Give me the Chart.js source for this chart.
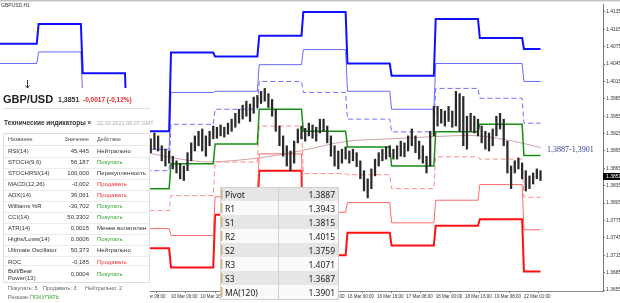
<!DOCTYPE html>
<html>
<head>
<meta charset="utf-8">
<script src="https://cdn.jsdelivr.net/npm/chart.js@4.4.0/dist/chart.umd.min.js"></script>
<style>
  html, body { margin: 0; padding: 0; background: #fff; }
  #wrap { width: 620px; height: 303px; position: relative; }
</style>
</head>
<body>
<div id="wrap"><canvas id="chart" width="620" height="303"></canvas></div>
<script>
// ========== DATA ==========
// H1 bars, x = bar number; each trading day = 24 bars
const dayStarts = [0, 21, 45, 69, 93, 117, 141, 165, 189, 213, 237, 261, 285];
const lastBar = 294;
const barsShown = 328;

// daily pivot levels (04 Mar ... 22 Mar)
const r3 = [1.4080, 1.4114, 1.4029, 1.3929, 1.4065, 1.4058, 1.4094, 1.4135, 1.4046, 1.4025, 1.4123, 1.4090, 1.4071];
const r2 = [1.4046, 1.4066, 1.3986, 1.3898, 1.3996, 1.3998, 1.4044, 1.4070, 1.3998, 1.3967, 1.4046, 1.4046, 1.4015];
const r1 = [1.3984, 1.3994, 1.3934, 1.3861, 1.3941, 1.3967, 1.4015, 1.3996, 1.3950, 1.3928, 1.4003, 1.3986, 1.3943];
const pivot = [1.3950, 1.3946, 1.3892, 1.3830, 1.3873, 1.3907, 1.3967, 1.3929, 1.3902, 1.3869, 1.3928, 1.3941, 1.3887];
const s1 = [1.3888, 1.3874, 1.3840, 1.3792, 1.3818, 1.3876, 1.3938, 1.3856, 1.3854, 1.3830, 1.3885, 1.3881, 1.3815];
const s2 = [1.3854, 1.3826, 1.3797, 1.3761, 1.3749, 1.3816, 1.3890, 1.3789, 1.3806, 1.3771, 1.3810, 1.3837, 1.3759];
const s3 = [1.3792, 1.3754, 1.3746, 1.3727, 1.3694, 1.3785, 1.3861, 1.3715, 1.3754, 1.3732, 1.3766, 1.3777, 1.3687];

// MA(120)
const maBars = [80, 98, 114, 141, 163, 189, 213, 245, 261, 279, 294];
const maValues = [1.3892, 1.3881, 1.3876, 1.3883, 1.3895, 1.3912, 1.3916, 1.3921, 1.3921, 1.3912, 1.3901];

// price bars (high / low), every 2nd bar from bar 82
const candleStart = 82;
const candleStep = 2;
const candleHigh = [
  1.3916, 1.3926, 1.3921, 1.3904, 1.3898, 1.3895, 1.3886, 1.3878, 1.3873, 1.3869,
  1.3892, 1.3909, 1.3921, 1.3929, 1.3933, 1.3921, 1.3929, 1.3938, 1.3936, 1.3940,
  1.3936, 1.3943, 1.3950, 1.3960, 1.3967, 1.3974, 1.3981, 1.3976, 1.3988, 1.3991,
  1.3998, 1.4003, 1.3994, 1.3984, 1.3967, 1.3938, 1.3921, 1.3904, 1.3895, 1.3912,
  1.3933, 1.3938, 1.3934, 1.3943, 1.3940, 1.3936, 1.3950, 1.3950, 1.3938, 1.3921,
  1.3904, 1.3895, 1.3898, 1.3902, 1.3895, 1.3898, 1.3892, 1.3878, 1.3861, 1.3847,
  1.3864, 1.3881, 1.3892, 1.3898, 1.3902, 1.3904, 1.3898, 1.3904, 1.3912, 1.3909,
  1.3921, 1.3933, 1.3921, 1.3912, 1.3904, 1.3886, 1.3929, 1.3972, 1.3972, 1.3967,
  1.3964, 1.3972, 1.3964, 1.3998, 1.3994, 1.3989, 1.3955, 1.3960, 1.3955, 1.3950,
  1.3938, 1.3929, 1.3926, 1.3933, 1.3955, 1.3960, 1.3950, 1.3912, 1.3869, 1.3878,
  1.3883, 1.3874, 1.3861, 1.3852, 1.3857, 1.3864, 1.3861
];
const candleLow = [
  1.3892, 1.3898, 1.3895, 1.3878, 1.3869, 1.3874, 1.3864, 1.3857, 1.3847, 1.3844,
  1.3861, 1.3878, 1.3895, 1.3904, 1.3895, 1.3886, 1.3904, 1.3916, 1.3917, 1.3921,
  1.3919, 1.3924, 1.3929, 1.3936, 1.3943, 1.3950, 1.3955, 1.3946, 1.3960, 1.3970,
  1.3977, 1.3981, 1.3970, 1.3955, 1.3929, 1.3904, 1.3886, 1.3869, 1.3861, 1.3874,
  1.3909, 1.3916, 1.3912, 1.3921, 1.3917, 1.3912, 1.3926, 1.3929, 1.3909, 1.3886,
  1.3869, 1.3864, 1.3874, 1.3881, 1.3874, 1.3878, 1.3868, 1.3847, 1.3826, 1.3814,
  1.3830, 1.3852, 1.3869, 1.3878, 1.3881, 1.3885, 1.3881, 1.3881, 1.3886, 1.3885,
  1.3895, 1.3904, 1.3892, 1.3881, 1.3874, 1.3857, 1.3869, 1.3921, 1.3938, 1.3943,
  1.3938, 1.3946, 1.3936, 1.3938, 1.3929, 1.3904, 1.3898, 1.3929, 1.3926, 1.3921,
  1.3909, 1.3898, 1.3895, 1.3904, 1.3921, 1.3933, 1.3904, 1.3857, 1.3830, 1.3857,
  1.3864, 1.3847, 1.3826, 1.3830, 1.3838, 1.3847, 1.3844
];
const lastPrice = 1.3851;

// axes
const timeTicks = [13, 29, 45, 61, 77, 93, 109, 125, 141, 157, 173, 189, 205, 221, 237, 253, 269, 285];
const timeLabels = ["4 Mar 16:00", "5 Mar 08:00", "8 Mar 00:00", "8 Mar 16:00", "9 Mar 08:00",
  "10 Mar 00:00", "10 Mar 16:00", "11 Mar 08:00", "12 Mar 00:00", "12 Mar 16:00", "15 Mar 08:00",
  "16 Mar 00:00", "16 Mar 16:00", "17 Mar 08:00", "18 Mar 00:00", "18 Mar 16:00", "19 Mar 08:00", "22 Mar 01:00"];
const priceTicks = [1.4135, 1.4105, 1.4075, 1.4045, 1.4015, 1.3985, 1.3955, 1.3925, 1.3895,
  1.3865, 1.3835, 1.3805, 1.3775, 1.3745, 1.3715, 1.3685, 1.3655];

// technical indicators panel
const indNames = ["RSI(14)", "STOCH(9,6)", "STOCHRSI(14)", "MACD(12,26)", "ADX(14)", "Williams %R",
  "CCI(14)", "ATR(14)", "Highs/Lows(14)", "Ultimate Oscillator", "ROC", "Bull/Bear|Power(13)"];
const indValues = ["45,445", "56,187", "100,000", "-0,002", "36,061", "-30,702", "50,3302", "0,0015",
  "0,0006", "50,373", "-0,185", "0,0004"];
const indActions = ["Нейтрально", "Покупать", "Перекупленность", "Продавать", "Продавать", "Покупать",
  "Покупать", "Менее волатилен", "Покупать", "Нейтрально", "Продавать", "Покупать"];

// pivot table
const pivotNames = ["Pivot", "R1", "S1", "R2", "S2", "R3", "S3", "MA(120)"];

// ========== HELPERS ==========
function stepLine(levels) {
    const pts = [];
    levels.forEach((v, i) => {
        const s = dayStarts[i];
        const e = i + 1 < dayStarts.length ? dayStarts[i + 1] - 1 : lastBar;
        pts.push({ x: s, y: v }, { x: e, y: v });
    });
    return pts;
}

function levelSet(label, levels, color, width, dash) {
    return {
        type: "line", label, data: stepLine(levels),
        borderColor: color, borderWidth: width, borderDash: dash || [],
        pointRadius: 0, tension: 0, order: 2
    };
}

const last = pivot.length - 1;
const pivotValues = [pivot[last], r1[last], s1[last], r2[last], s2[last], r3[last], s3[last], maValues[maValues.length - 1]];
const fmt = v => v.toFixed(4);
const fmtComma = v => v.toFixed(4).replace(".", ",");

// ========== OVERLAYS ==========
const overlay = {
    id: "overlay",
    afterDraw(chart) {
        const ctx = chart.ctx;
        const yS = chart.scales.y;
        ctx.save();
        ctx.textBaseline = "alphabetic";

        // top border + title
        ctx.fillStyle = "#c4c4c4";
        ctx.fillRect(0, 0, 620, 1.5);
        ctx.fillStyle = "#333";
        ctx.font = "5px 'Liberation Sans'";
        ctx.fillText("GBPUSD,H1", 1, 7);

        // pivot label on the right
        ctx.font = "8px 'Liberation Serif'";
        ctx.fillStyle = "#2f3f8c";
        ctx.fillText(fmtComma(pivot[last]) + "-" + fmtComma(maValues[maValues.length - 1]), 547, 152);

        // current price box
        const py = yS.getPixelForValue(lastPrice);
        ctx.fillStyle = "#000";
        ctx.fillRect(603, py - 3.5, 17, 7);
        ctx.fillStyle = "#fff";
        ctx.font = "5px 'Liberation Sans'";
        ctx.fillText(fmt(lastPrice), 606, py + 2);

        // small arrow marker
        ctx.strokeStyle = "#333";
        ctx.lineWidth = 1;
        ctx.beginPath();
        ctx.moveTo(27.5, 80); ctx.lineTo(27.5, 88);
        ctx.moveTo(25.5, 85.5); ctx.lineTo(27.5, 88); ctx.lineTo(29.5, 85.5);
        ctx.stroke();

        // ---- left panel ----
        ctx.fillStyle = "#fff";
        ctx.fillRect(0, 88, 150, 215);
        ctx.font = "bold 11px 'Liberation Sans'";
        ctx.fillStyle = "#222";
        ctx.fillText("GBP/USD", 3, 103);
        ctx.font = "bold 7px 'Liberation Sans'";
        ctx.fillStyle = "#333";
        ctx.fillText("1,3851", 58, 102);
        ctx.font = "bold 6.5px 'Liberation Sans'";
        ctx.fillStyle = "#e8282e";
        ctx.fillText("-0,0017 (-0,12%)", 83, 102);
        ctx.fillStyle = "#e2e2e2";
        ctx.fillRect(3, 108, 147, 1);
        ctx.font = "bold 6.5px 'Liberation Sans'";
        ctx.fillStyle = "#333";
        ctx.fillText("Технические индикаторы »", 4, 125);
        ctx.font = "5.5px 'Liberation Sans'";
        ctx.fillStyle = "#aaa";
        ctx.fillText("22.03.2021 06:07 GMT", 97, 125);

        // table
        ctx.strokeStyle = "#dedede";
        ctx.lineWidth = 1;
        ctx.strokeRect(3.5, 133.5, 146, 149);
        ctx.font = "5.5px 'Liberation Sans'";
        ctx.fillStyle = "#555";
        ctx.fillText("Название", 8, 141);
        ctx.textAlign = "right";
        ctx.fillText("Значение", 89, 141);
        ctx.textAlign = "left";
        ctx.fillText("Действие", 97, 141);
        ctx.fillStyle = "#e6e6e6";
        ctx.fillRect(4, 145, 145, 1);
        indNames.forEach((name, i) => {
            const cy = i < 11 ? 151 + i * 11.05 : 273.5;
            if (i > 0) {
                ctx.fillStyle = "#ececec";
                ctx.fillRect(4, Math.round(cy - (i < 11 ? 5.5 : 8.5)), 145, 1);
            }
            ctx.font = "6px 'Liberation Sans'";
            ctx.fillStyle = "#333";
            const parts = name.split("|");
            if (parts.length > 1) {
                ctx.fillText(parts[0], 8, cy - 1);
                ctx.fillText(parts[1], 8, cy + 6);
            } else {
                ctx.fillText(name, 8, cy + 2);
            }
            ctx.textAlign = "right";
            ctx.fillText(indValues[i], 89, cy + 2);
            ctx.textAlign = "left";
            const act = indActions[i];
            ctx.fillStyle = act === "Покупать" ? "#2fa52f" : act === "Продавать" ? "#f0353a" : "#333";
            ctx.fillText(act, 97, cy + 2);
        });
        ctx.font = "5.5px 'Liberation Sans'";
        ctx.fillStyle = "#666";
        ctx.fillText("Покупать: 5", 8, 290);
        ctx.fillText("Продавать: 3", 43, 290);
        ctx.fillText("Нейтрально: 2", 85, 290);
        ctx.fillText("Резюме:", 8, 299);
        ctx.fillStyle = "#2fa52f";
        ctx.fillText("ПОКУПАТЬ", 30, 299);

        // ---- pivot table ----
        const tx = 220, tw = 118, ty = 187, rh = 14;
        pivotNames.forEach((name, i) => {
            const top = ty + i * rh;
            ctx.fillStyle = i % 2 === 0 ? "#e6e6e6" : "#fafafa";
            ctx.fillRect(tx, top, tw, rh);
            ctx.fillStyle = "#d7b374";
            ctx.fillRect(tx + 1, top + 2, 1.5, rh - 4);
            ctx.font = "8.5px 'Noto Sans'";
            ctx.fillStyle = "#222";
            ctx.textAlign = "left";
            ctx.fillText(name, tx + 5, top + 10.5);
            ctx.textAlign = "right";
            ctx.fillText(fmt(pivotValues[i]), tx + tw - 3, top + 10.5);
        });
        ctx.textAlign = "left";
        ctx.fillStyle = "#cfcfcf";
        ctx.fillRect(tx + 58, ty, 1, rh * pivotNames.length);
        ctx.strokeStyle = "#d0d0d0";
        ctx.strokeRect(tx + 0.5, ty + 0.5, tw, rh * pivotNames.length);

        ctx.restore();
    }
};

// ========== CHART ==========
const ctxEl = document.getElementById("chart");
new Chart(ctxEl.getContext("2d"), {
    type: "bar",
    data: {
        datasets: [
            {
                type: "bar", label: "GBPUSD",
                data: candleHigh.map((h, i) => ({ x: candleStart + i * candleStep, y: [candleLow[i], h] })),
                backgroundColor: "#2a2a2a", borderWidth: 0, barThickness: 1.6, order: 1
            },
            {
                type: "line", label: "MA(120)",
                data: maBars.map((b, i) => ({ x: b, y: maValues[i] })),
                borderColor: "#d6a0a0", borderWidth: 1, pointRadius: 0, tension: 0.3, order: 3
            },
            levelSet("R3", r3, "#1010ff", 2),
            levelSet("R2", r2, "#6a6aff", 1),
            levelSet("R1", r1, "#7070ff", 1, [5, 3]),
            levelSet("Pivot", pivot, "#159015", 1.5),
            levelSet("S1", s1, "#ff8a8a", 1, [5, 3]),
            levelSet("S2", s2, "#ff6a6a", 1),
            levelSet("S3", s3, "#ff1010", 2)
        ]
    },
    options: {
        responsive: false,
        animation: false,
        devicePixelRatio: 1,
        layout: { padding: { top: 2, left: 0, right: 0, bottom: 0 } },
        plugins: { legend: { display: false }, tooltip: { enabled: false } },
        scales: {
            x: {
                type: "linear", min: 0, max: barsShown, offset: false, position: "bottom",
                afterBuildTicks: s => { s.ticks = timeTicks.map(v => ({ value: v })); },
                afterFit: s => { s.height = 12; },
                grid: { display: true, drawOnChartArea: false, drawTicks: true, tickLength: 2, color: "#777" },
                border: { display: true, color: "#888" },
                ticks: {
                    autoSkip: false, maxRotation: 0, align: "start", padding: 1,
                    font: { size: 4.5, family: "'Liberation Sans'" }, color: "#333",
                    callback: (v, i) => timeLabels[i]
                }
            },
            y: {
                position: "right", min: 1.36533, max: 1.41487,
                afterBuildTicks: s => { s.ticks = priceTicks.map(v => ({ value: v })); },
                afterFit: s => { s.width = 17; },
                grid: { display: true, drawOnChartArea: false, drawTicks: true, tickLength: 2, color: "#777" },
                border: { display: true, color: "#777" },
                ticks: {
                    padding: 1, font: { size: 5, family: "'Liberation Sans'" }, color: "#333",
                    callback: v => Number(v).toFixed(4)
                }
            }
        }
    },
    plugins: [overlay]
});
</script>
</body>
</html>
